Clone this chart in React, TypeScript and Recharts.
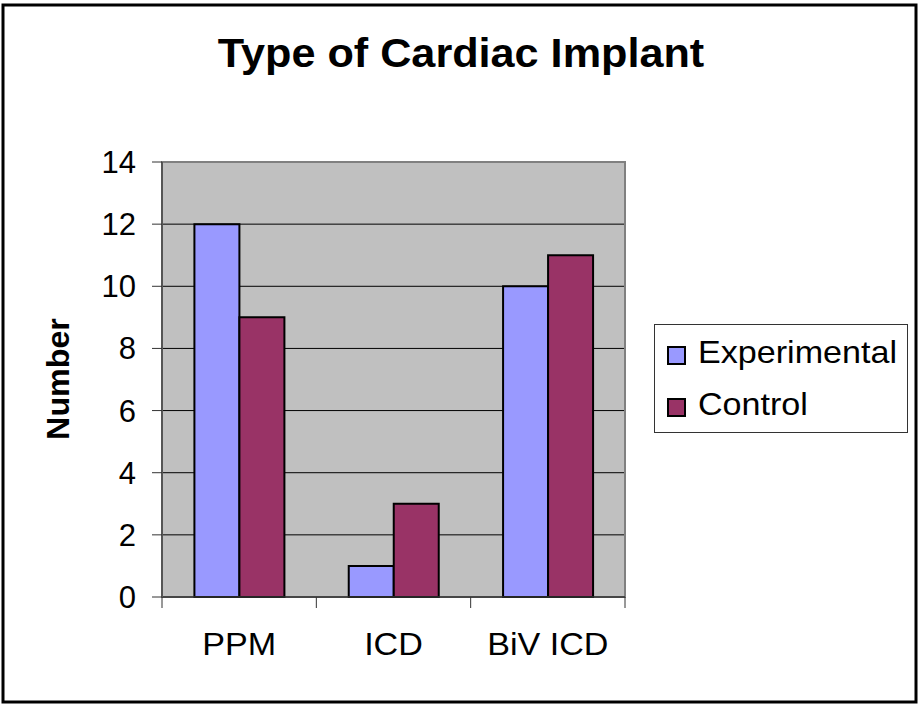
import React from 'react';
import { BarChart, Bar, XAxis, YAxis, CartesianGrid, ReferenceArea } from 'recharts';

const categories = ['PPM', 'ICD', 'BiV ICD'];
const experimental = [12, 1, 10];
const control = [9, 3, 11];
const yTicks = [0, 2, 4, 6, 8, 10, 12, 14];
const seriesNames = ['Experimental', 'Control'];
const seriesColors = ['#9999FF', '#993366'];

const data = categories.map((c, i) => ({ category: c, Experimental: experimental[i], Control: control[i] }));

const W = 919;
const H = 705;
const MARGIN = { top: 162, right: 294, bottom: 8, left: 0 };
const Y_AXIS_W = 162;
const X_AXIS_H = 100;
const PLOT_W = W - MARGIN.left - MARGIN.right - Y_AXIS_W;
const BAND = PLOT_W / categories.length;
const FONT = '"Liberation Sans", Arial, Helvetica, sans-serif';
const STRETCH = 1.1;

const XTick = (props: any) => {
  const { x, y, payload, index } = props;
  const half = BAND / 2;
  const last = index === categories.length - 1;
  return (
    <g>
      <line x1={x - half} y1={y} x2={x - half} y2={y + 11} stroke="#333" strokeWidth={1} />
      {last && <line x1={x + half} y1={y} x2={x + half} y2={y + 11} stroke="#333" strokeWidth={1} />}
      <text
        x={0}
        y={0}
        transform={`translate(${x} ${y + 58}) scale(${STRETCH} 1)`}
        textAnchor="middle"
        fontSize={31}
        fontFamily={FONT}
        fill="#000"
      >
        {payload.value}
      </text>
    </g>
  );
};

export default function App() {
  return (
    <div style={{ position: 'absolute', left: 0, top: 0, width: W, height: H, background: '#fff', fontFamily: FONT }}>
      <BarChart
        width={W}
        height={H}
        data={data}
        margin={MARGIN}
        barCategoryGap="21%"
        barGap={0}
      >
        <CartesianGrid vertical={false} horizontal={true} stroke="#000" strokeWidth={1} fill="#C0C0C0" fillOpacity={1} />
        <XAxis
          dataKey="category"
          height={X_AXIS_H}
          tickLine={false}
          tickSize={0}
          tickMargin={0}
          axisLine={{ stroke: '#333', strokeWidth: 1.5 }}
          tick={<XTick />}
          interval={0}
        />
        <YAxis
          width={Y_AXIS_W}
          domain={[0, 14]}
          ticks={yTicks}
          interval={0}
          tickSize={10}
          tickMargin={16}
          tickLine={{ stroke: '#333', strokeWidth: 1 }}
          axisLine={{ stroke: '#555', strokeWidth: 2 }}
          tick={{ fontSize: 31, fill: '#000', fontFamily: FONT }}
        />
        <ReferenceArea y1={0} y2={14} fill="none" stroke="#808080" strokeWidth={2} ifOverflow="visible" />
        <Bar dataKey="Experimental" fill={seriesColors[0]} stroke="#000" strokeWidth={2} isAnimationActive={false} />
        <Bar dataKey="Control" fill={seriesColors[1]} stroke="#000" strokeWidth={2} isAnimationActive={false} />
      </BarChart>
      <svg width={W} height={H} style={{ position: 'absolute', left: 0, top: 0, pointerEvents: 'none' }}>
        <rect x={3} y={5} width={913} height={697} fill="none" stroke="#000" strokeWidth={3} />
        <text
          x={0}
          y={0}
          transform="translate(461 67) scale(1.08 1)"
          textAnchor="middle"
          fontSize={40}
          fontWeight="bold"
          fontFamily={FONT}
          fill="#000"
        >
          Type of Cardiac Implant
        </text>
        <text
          x={0}
          y={0}
          transform="translate(58 379) rotate(-90) scale(1.04 1)"
          textAnchor="middle"
          dominantBaseline="central"
          fontSize={31}
          fontWeight="bold"
          fontFamily={FONT}
          fill="#000"
        >
          Number
        </text>
        <g transform="translate(654 324)">
          <rect x={0.5} y={0.5} width={253} height={108} fill="#fff" stroke="#333" strokeWidth={1} />
          {seriesNames.map((n, i) => (
            <g key={n}>
              <rect x={14} y={23 + i * 52} width={17} height={17} fill={seriesColors[i]} stroke="#000" strokeWidth={2} />
              <text
                x={0}
                y={0}
                transform={`translate(44 ${39 + i * 52}) scale(${STRETCH} 1)`}
                fontSize={31}
                fontFamily={FONT}
                fill="#000"
              >
                {n}
              </text>
            </g>
          ))}
        </g>
      </svg>
    </div>
  );
}
